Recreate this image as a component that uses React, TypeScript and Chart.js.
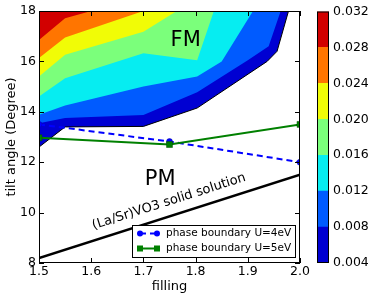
import React, { useEffect, useRef } from 'react';
import { Chart, registerables } from 'chart.js';
Chart.register(...registerables);

// axes
const xTicks = [1.5, 1.6, 1.7, 1.8, 1.9, 2.0];
const yTicks = [8, 10, 12, 14, 16, 18];

// colour levels (colorbar)
const cbLevels = [0.004, 0.008, 0.012, 0.016, 0.020, 0.024, 0.028, 0.032];
const cbColors = ['rgb(0,0,210)', 'rgb(0,91,255)', 'rgb(6,237,241)', 'rgb(123,255,123)', 'rgb(241,252,6)', 'rgb(255,117,0)', 'rgb(210,0,0)'];

// lower boundary of region where value >= level
const lev004X = [1.5, 1.55, 1.7, 1.803, 1.937, 1.956, 1.978];
const lev004Y = [12.6, 13.4, 13.42, 14.15, 16.0, 16.4, 18];
const lev008X = [1.5, 1.55, 1.7, 1.803, 1.9, 1.94, 1.963];
const lev008Y = [13.55, 13.75, 13.87, 14.78, 16.05, 16.6, 18];
const lev012X = [1.5, 1.55, 1.7, 1.803, 1.85, 1.91];
const lev012Y = [13.88, 14.25, 15.0, 15.4, 16.0, 18];
const lev016X = [1.5, 1.55, 1.7, 1.803, 1.835];
const lev016Y = [14.61, 15.33, 16.32, 16.05, 18];
const lev020X = [1.5, 1.55, 1.7, 1.764];
const lev020Y = [15.4, 16.26, 17.18, 18];
const lev024X = [1.5, 1.55, 1.7];
const lev024Y = [16.13, 16.95, 18];
const lev028X = [1.5, 1.55, 1.6];
const lev028Y = [16.85, 17.71, 18];

// phase boundaries
const u4X = [1.5, 1.75, 2.0];
const u4Y = [13.5, 12.82, 12.0];
const u5X = [1.5, 1.75, 2.0];
const u5Y = [12.97, 12.7, 13.5];
// solid solution line
const solidX = [1.5, 2.0];
const solidY = [8.2, 11.5];

// text annotations
const annotTexts = ['FM', 'PM'];
const annotX = [1.781, 1.732];
const annotY = [16.81, 11.33];
const solidLabel = '(La/Sr)VO3 solid solution';
const solidLabelX = 1.751;
const solidLabelY = 10.305;

const FONT = "'DejaVu Sans', sans-serif";

const pts = (xs: number[], ys: number[]) => xs.map((x, i) => ({ x, y: ys[i] }));

export default function App() {
  const mainRef = useRef<HTMLCanvasElement>(null);
  const cbRef = useRef<HTMLCanvasElement>(null);

  useEffect(() => {
    Chart.defaults.font.family = FONT;
    Chart.defaults.color = '#000';

    const contours = [
      [lev004X, lev004Y], [lev008X, lev008Y], [lev012X, lev012Y], [lev016X, lev016Y],
      [lev020X, lev020Y], [lev024X, lev024Y], [lev028X, lev028Y],
    ];
    const contourSets: any[] = contours.map(([xs, ys], i) => ({
      label: 'level' + i,
      data: pts(xs, ys),
      backgroundColor: cbColors[i],
      borderColor: i === 0 ? '#000' : 'rgba(0,0,0,0)',
      borderWidth: i === 0 ? 1 : 0,
      pointRadius: 0,
      fill: 'end',
      order: 20 - i,
      clip: 0,
      tension: 0,
    }));

    const lineSets: any[] = [
      {
        label: 'solid', data: pts(solidX, solidY), borderColor: '#000', borderWidth: 2.5,
        pointRadius: 0, fill: false, order: 3, clip: 0,
      },
      {
        label: 'phase boundary U=4eV', data: pts(u4X, u4Y), borderColor: '#0000ff', borderWidth: 2,
        borderDash: [6, 4], pointRadius: 3, pointStyle: 'circle', pointBackgroundColor: '#0000ff',
        pointBorderColor: '#0000aa', pointBorderWidth: 0.5, fill: false, order: 2, clip: 0,
      },
      {
        label: 'phase boundary U=5eV', data: pts(u5X, u5Y), borderColor: '#008000', borderWidth: 2,
        pointRadius: 4.2, pointStyle: 'rect', pointBackgroundColor: '#008000',
        pointBorderColor: '#005000', pointBorderWidth: 0.5, fill: false, order: 1, clip: 0,
      },
    ];

    const decor = {
      id: 'decor',
      afterDatasetsDraw(chart: any) {
        const { ctx, chartArea: a, scales } = chart;
        const x = scales.x, y = scales.y;
        ctx.save();
        // annotations
        ctx.fillStyle = '#000';
        ctx.font = `21px ${FONT}`;
        ctx.textAlign = 'center';
        ctx.textBaseline = 'middle';
        annotTexts.forEach((t, i) => {
          ctx.fillText(t, x.getPixelForValue(annotX[i]), y.getPixelForValue(annotY[i]));
        });
        const ang = Math.atan2(
          y.getPixelForValue(solidY[1]) - y.getPixelForValue(solidY[0]),
          x.getPixelForValue(solidX[1]) - x.getPixelForValue(solidX[0])
        );
        ctx.save();
        ctx.translate(x.getPixelForValue(solidLabelX), y.getPixelForValue(solidLabelY));
        ctx.rotate(ang);
        ctx.font = `13px ${FONT}`;
        ctx.textBaseline = 'alphabetic';
        ctx.fillText(solidLabel, 0, 0);
        ctx.restore();

        // legend
        const bw = 163, bh = 32;
        const bx = Math.round(a.right - 5 - bw);
        const by = Math.round(a.bottom - 6 - bh);
        ctx.fillStyle = '#fff';
        ctx.fillRect(bx, by, bw, bh);
        ctx.strokeStyle = '#000';
        ctx.lineWidth = 1;
        ctx.strokeRect(bx + 0.5, by + 0.5, bw, bh);
        const legendSets = chart.data.datasets.filter((d: any) => String(d.label).startsWith('phase'));
        legendSets.forEach((d: any, i: number) => {
          const ry = by + 8.5 + 15 * i;
          const x0 = bx + 8, x1 = bx + 25;
          ctx.save();
          ctx.strokeStyle = d.borderColor;
          ctx.lineWidth = d.borderWidth;
          ctx.setLineDash(d.borderDash || []);
          ctx.beginPath();
          ctx.moveTo(x0, ry);
          ctx.lineTo(x1, ry);
          ctx.stroke();
          ctx.setLineDash([]);
          ctx.fillStyle = d.pointBackgroundColor;
          [x0, x1].forEach((px) => {
            if (d.pointStyle === 'rect') {
              ctx.fillRect(px - 3, ry - 3, 6, 6);
            } else {
              ctx.beginPath();
              ctx.arc(px, ry, 3, 0, Math.PI * 2);
              ctx.fill();
            }
          });
          ctx.restore();
          ctx.fillStyle = '#000';
          ctx.font = `10.5px ${FONT}`;
          ctx.textAlign = 'left';
          ctx.textBaseline = 'middle';
          ctx.fillText(d.label, bx + 34, ry);
        });

        // frame
        ctx.strokeStyle = '#000';
        ctx.lineWidth = 1;
        ctx.strokeRect(a.left + 0.5, a.top + 0.5, a.right - a.left - 1, a.bottom - a.top - 1);
        // inward ticks
        ctx.beginPath();
        xTicks.forEach((v) => {
          const px = Math.round(x.getPixelForValue(v)) + 0.5;
          ctx.moveTo(px, a.bottom); ctx.lineTo(px, a.bottom - 5);
          ctx.moveTo(px, a.top); ctx.lineTo(px, a.top + 5);
        });
        yTicks.forEach((v) => {
          const py = Math.round(y.getPixelForValue(v)) + 0.5;
          ctx.moveTo(a.left, py); ctx.lineTo(a.left + 5, py);
          ctx.moveTo(a.right, py); ctx.lineTo(a.right - 5, py);
        });
        ctx.stroke();
        ctx.restore();
      },
    };

    const main = new Chart(mainRef.current!, {
      type: 'line',
      data: { datasets: [...contourSets, ...lineSets] },
      options: {
        responsive: false,
        animation: false,
        devicePixelRatio: 1,
        layout: { padding: { left: 0, right: 74, top: 11, bottom: 0 } },
        plugins: { legend: { display: false }, tooltip: { enabled: false } },
        scales: {
          x: {
            type: 'linear', min: 1.5, max: 2.0,
            afterBuildTicks: (s: any) => { s.ticks = xTicks.map((v) => ({ value: v })); },
            ticks: { callback: (v: any) => Number(v).toFixed(1), font: { size: 12.5 }, color: '#000', padding: 1, maxRotation: 0, autoSkip: false },
            grid: { display: false, drawTicks: false },
            border: { display: false },
            title: { display: true, text: 'filling', font: { size: 13 }, color: '#000', padding: { top: 0, bottom: 4 } },
            afterFit: (s: any) => { s.height = 35; },
          },
          y: {
            type: 'linear', min: 8, max: 18,
            afterBuildTicks: (s: any) => { s.ticks = yTicks.map((v) => ({ value: v })); },
            ticks: { callback: (v: any) => String(v), font: { size: 12.5 }, color: '#000', padding: 3 },
            grid: { display: false, drawTicks: false },
            border: { display: false },
            title: { display: true, text: 'tilt angle (Degree)', font: { size: 13 }, color: '#000', padding: { top: 4, bottom: 0 } },
            afterFit: (s: any) => { s.width = 39; },
          },
        },
      } as any,
      plugins: [decor],
    });

    const frame = {
      id: 'cbframe',
      afterDraw(chart: any) {
        const { ctx, chartArea: a } = chart;
        ctx.save();
        ctx.strokeStyle = '#000';
        ctx.lineWidth = 1;
        ctx.strokeRect(a.left + 0.5, a.top + 0.5, a.right - a.left - 1, a.bottom - a.top - 1);
        ctx.restore();
      },
    };

    const cb = new Chart(cbRef.current!, {
      type: 'bar',
      data: {
        labels: ['cb'],
        datasets: cbColors.map((c, i) => ({
          label: 'band' + i,
          data: [[cbLevels[i], cbLevels[i + 1]]],
          backgroundColor: c,
          borderWidth: 0,
          grouped: false,
          barPercentage: 1,
          categoryPercentage: 1,
        })) as any,
      },
      options: {
        responsive: false,
        animation: false,
        devicePixelRatio: 1,
        layout: { padding: { left: 17, top: 11, bottom: 35, right: 0 } },
        plugins: { legend: { display: false }, tooltip: { enabled: false } },
        scales: {
          x: { display: false },
          y: {
            position: 'right', min: 0.004, max: 0.032,
            afterBuildTicks: (s: any) => { s.ticks = cbLevels.map((v) => ({ value: v })); },
            ticks: { callback: (v: any) => Number(v).toFixed(3), font: { size: 12.5 }, color: '#000', padding: 4 },
            grid: { display: false, drawTicks: false },
            border: { display: false },
            afterFit: (s: any) => { s.width = 45; },
          },
        },
      } as any,
      plugins: [frame],
    });

    return () => { main.destroy(); cb.destroy(); };
  }, []);

  return (
    <div style={{ position: 'fixed', left: 0, top: 0, width: 374, height: 298, background: '#fff' }}>
      <canvas ref={mainRef} width={374} height={298} style={{ position: 'absolute', left: 0, top: 0 }} />
      <canvas ref={cbRef} width={74} height={298} style={{ position: 'absolute', left: 300, top: 0 }} />
    </div>
  );
}
